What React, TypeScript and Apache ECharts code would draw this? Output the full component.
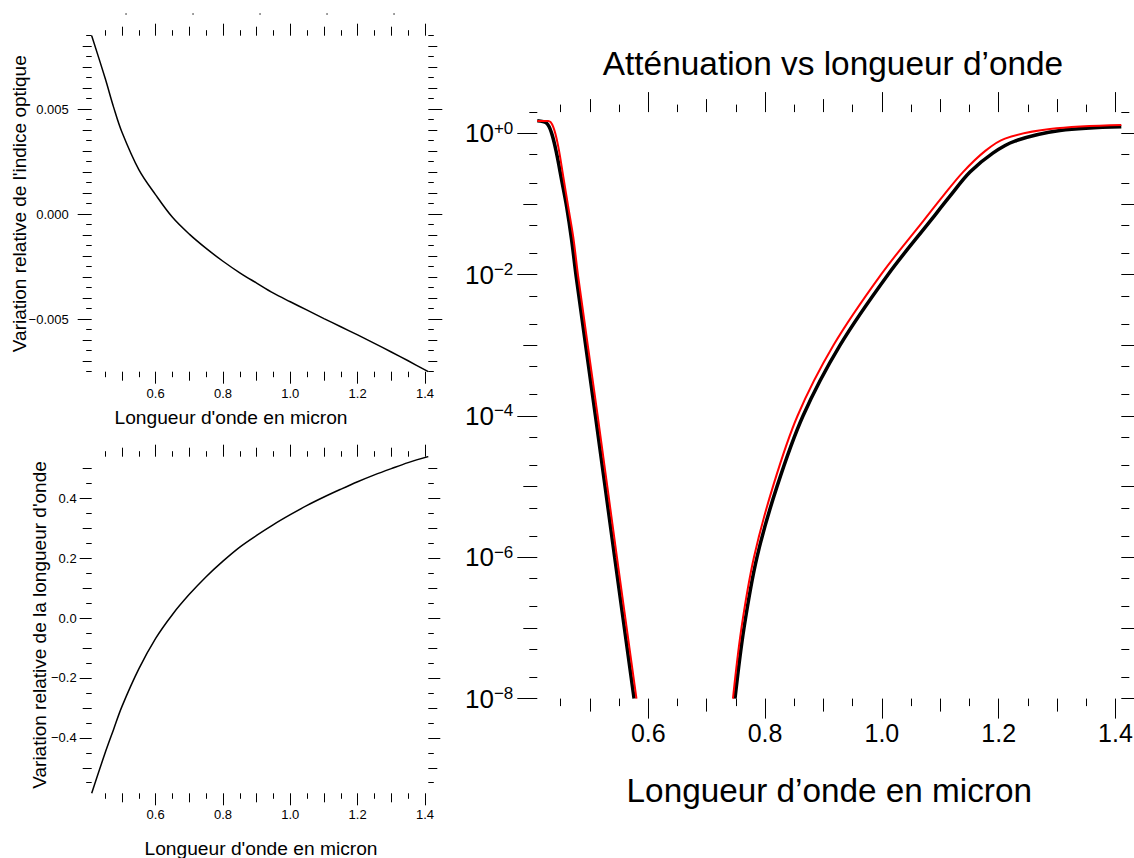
import React, { useEffect, useRef } from 'react';
import * as echarts from 'echarts';

const FONT = '"Liberation Sans", Arial, Helvetica, sans-serif';

// ---- Top-left panel: relative variation of the optical index ----
const lambdaIndex = [0.41, 0.45, 0.475, 0.5, 0.55, 0.6, 0.65, 0.7, 0.75, 0.8, 0.85, 0.9, 0.95, 1.0, 1.05, 1.1, 1.15, 1.2, 1.25, 1.3, 1.35, 1.41];
const indexVariation = [0.0085, 0.00647, 0.0051, 0.0039, 0.00212, 0.00092, -0.00015, -0.00095, -0.00163, -0.00224, -0.00279, -0.00328, -0.00376, -0.00417, -0.00457, -0.00497, -0.00536, -0.00575, -0.00615, -0.00656, -0.00698, -0.0075];

// ---- Bottom-left panel: relative variation of the wavelength ----
const lambdaWave = [0.41, 0.45, 0.475, 0.5, 0.55, 0.6, 0.65, 0.7, 0.75, 0.8, 0.85, 0.9, 0.95, 1.0, 1.05, 1.1, 1.15, 1.2, 1.25, 1.3, 1.35, 1.41];
const waveVariation = [-0.585, -0.45, -0.372, -0.295, -0.17, -0.068, 0.012, 0.079, 0.138, 0.19, 0.237, 0.276, 0.312, 0.345, 0.376, 0.404, 0.43, 0.455, 0.478, 0.499, 0.519, 0.539];

// ---- Right panel: attenuation (log scale) ----
const lambdaBlackShort = [0.41, 0.426, 0.4346, 0.443, 0.4517, 0.4603, 0.4688, 0.4767, 0.5096, 0.5425, 0.5757];
const attBlackShort = [1.51, 1.39, 1.0, 0.52, 0.218, 0.091, 0.031, 0.0093, 1e-4, 1e-6, 1e-8];
const lambdaBlackLong = [0.7485, 0.7639, 0.7861, 0.8204, 0.8649, 0.9282, 1.0104, 1.0841, 1.1166, 1.1509, 1.19, 1.2278, 1.3049, 1.41];
const attBlackLong = [1e-8, 1e-7, 1e-6, 1e-5, 1e-4, 1e-3, 1e-2, 0.0591, 0.129, 0.283, 0.526, 0.778, 1.096, 1.24];
const lambdaRedShort = [0.41, 0.4288, 0.4373, 0.4459, 0.4545, 0.463, 0.4716, 0.4801, 0.5134, 0.5464, 0.5798];
const attRedShort = [1.5, 1.5, 1.24, 0.65, 0.243, 0.091, 0.034, 0.0093, 1e-4, 1e-6, 1e-8];
const lambdaRedLong = [0.745, 0.7596, 0.781, 0.8135, 0.8555, 0.9171, 0.9985, 1.0721, 1.1046, 1.1389, 1.1766, 1.2108, 1.2878, 1.41];
const attRedLong = [1e-8, 1e-7, 1e-6, 1e-5, 1e-4, 1e-3, 1e-2, 0.0591, 0.129, 0.283, 0.561, 0.844, 1.15, 1.31];

// ---- Tick values / labels ----
const X_MAJOR = [0.6, 0.8, 1.0, 1.2, 1.4];
const X_MEDIUM = [0.5, 0.7, 0.9, 1.1, 1.3];
const X_MINOR = [0.45, 0.55, 0.65, 0.75, 0.85, 0.95, 1.05, 1.15, 1.25, 1.35];

const IDX_MAJOR = [-0.005, 0, 0.005];
const IDX_MEDIUM = [-0.007, -0.006, -0.004, -0.003, -0.002, -0.001, 0.001, 0.002, 0.003, 0.004, 0.006, 0.007, 0.008];
const IDX_MINOR = [-0.0075, -0.0065, -0.0055, -0.0045, -0.0035, -0.0025, -0.0015, -0.0005, 0.0005, 0.0015, 0.0025, 0.0035, 0.0045, 0.0055, 0.0065, 0.0075, 0.0085];

const WAVE_MAJOR = [-0.4, -0.2, 0, 0.2, 0.4];
const WAVE_MEDIUM = [-0.5, -0.3, -0.1, 0.1, 0.3, 0.5];
const WAVE_MINOR = [-0.55, -0.45, -0.35, -0.25, -0.15, -0.05, 0.05, 0.15, 0.25, 0.35, 0.45];

const DECADE_MAJOR = [-8, -6, -4, -2, 0];
const DECADE_MEDIUM = [-7, -5, -3, -1];
const DECADE_MINOR_FACTORS = [2, 5];

const LAMBDA_MIN = 0.41;
const LAMBDA_MAX = 1.41;
const IDX_MIN = -0.0075;
const IDX_MAX = 0.0085;
const WAVE_MIN = -0.5853;
const WAVE_MAX = 0.5387;
const ATT_MIN = 1e-8;
const ATT_MAX = 2;

const minus = (s: string) => s.replace('-', '\u2212');

export default function App() {
  const ref = useRef<HTMLDivElement>(null);

  useEffect(() => {
    if (!ref.current) return;
    const chart = echarts.init(ref.current, undefined, { renderer: 'svg' });

    const logMin = Math.log10(ATT_MIN);
    const logMax = Math.log10(ATT_MAX);
    const decadeMinor: number[] = [];
    for (let d = -8; d <= 0; d++) {
      for (const f of DECADE_MINOR_FACTORS) {
        const v = d + Math.log10(f);
        if (v <= logMax + 1e-9) decadeMinor.push(v);
      }
    }

    const xAxes: any[] = [];
    const yAxes: any[] = [];

    const tickAxis = (
      gridIndex: number,
      position: string,
      min: number,
      max: number,
      values: number[],
      length: number,
      label?: any
    ) => ({
      type: 'value',
      gridIndex,
      position,
      min,
      max,
      silent: true,
      axisLine: { show: false, onZero: false },
      splitLine: { show: false },
      axisPointer: { show: false },
      axisTick: {
        show: true,
        inside: false,
        length,
        customValues: values,
        lineStyle: { color: '#000', width: 1 },
      },
      axisLabel: label
        ? { show: true, customValues: values, color: '#000', fontFamily: FONT, ...label }
        : { show: false },
    });

    const addX = (gridIndex: number, min: number, max: number, vals: number[][], lens: number[], label: any) => {
      const first = xAxes.length;
      ['bottom', 'top'].forEach((pos) => {
        vals.forEach((v, i) => {
          xAxes.push(tickAxis(gridIndex, pos, min, max, v, lens[i], pos === 'bottom' && i === 0 ? label : undefined));
        });
      });
      return first;
    };
    const addY = (gridIndex: number, min: number, max: number, vals: number[][], lens: number[], label: any) => {
      const first = yAxes.length;
      ['left', 'right'].forEach((pos) => {
        vals.forEach((v, i) => {
          yAxes.push(tickAxis(gridIndex, pos, min, max, v, lens[i], pos === 'left' && i === 0 ? label : undefined));
        });
      });
      return first;
    };

    const smallLabelX = (margin: number) => ({
      fontSize: 13,
      margin,
      formatter: (v: number) => v.toFixed(1),
    });

    // Grid 0 : top-left
    const x0 = addX(0, LAMBDA_MIN, LAMBDA_MAX, [X_MAJOR, X_MEDIUM, X_MINOR], [12, 9, 5.5], smallLabelX(15.5));
    const y0 = addY(0, IDX_MIN, IDX_MAX, [IDX_MAJOR, IDX_MEDIUM, IDX_MINOR], [14, 9, 5.5], {
      fontSize: 13,
      margin: 23,
      formatter: (v: number) => minus(v.toFixed(3)),
    });
    // Grid 1 : bottom-left
    const x1 = addX(1, LAMBDA_MIN, LAMBDA_MAX, [X_MAJOR, X_MEDIUM, X_MINOR], [12, 9, 5.5], smallLabelX(14.6));
    const y1 = addY(1, WAVE_MIN, WAVE_MAX, [WAVE_MAJOR, WAVE_MEDIUM, WAVE_MINOR], [12, 9, 5.5], {
      fontSize: 13,
      margin: 15,
      formatter: (v: number) => minus(v.toFixed(1)),
    });
    // Grid 2 : right
    const x2 = addX(2, LAMBDA_MIN, LAMBDA_MAX, [X_MAJOR, X_MEDIUM, X_MINOR], [20, 13, 7.5], {
      fontSize: 25,
      margin: 22,
      formatter: (v: number) => v.toFixed(1),
    });
    const y2 = addY(2, logMin, logMax, [DECADE_MAJOR, DECADE_MEDIUM, decadeMinor], [20, 14, 8], {
      margin: 24,
      formatter: (v: number) => `{b|10}{s|${v === 0 ? '+0' : '\u2212' + Math.abs(Math.round(v))}}`,
      rich: {
        b: { fontSize: 26, fontFamily: FONT, color: '#000', lineHeight: 27 },
        s: { fontSize: 17, fontFamily: FONT, color: '#000', verticalAlign: 'top', lineHeight: 17 },
      },
    });

    const line = (xi: number, yi: number, xs: number[], ys: number[], color: string, width: number, log = false) => ({
      type: 'line',
      xAxisIndex: xi,
      yAxisIndex: yi,
      data: xs.map((x, i) => [x, log ? Math.log10(ys[i]) : ys[i]]),
      showSymbol: false,
      symbol: 'none',
      smooth: 0.35,
      silent: true,
      emphasis: { disabled: true },
      lineStyle: { color, width },
    });

    const graphicText = (text: string, x: number, y: number, size: number, rotation = 0) => ({
      type: 'text',
      x,
      y,
      rotation,
      silent: true,
      style: {
        text,
        fontSize: size,
        fontFamily: FONT,
        fill: '#000',
        align: 'center',
        verticalAlign: 'middle',
      },
    });

    const dots = [126, 193, 260, 327, 394].map((cx) => ({
      type: 'circle',
      silent: true,
      shape: { cx, cy: 14, r: 0.8 },
      style: { fill: '#666' },
    }));

    chart.setOption({
      animation: false,
      backgroundColor: '#fff',
      grid: [
        { left: 91.7, top: 35.7, width: 336.6, height: 336, outerBoundsMode: 'none' },
        { left: 91.7, top: 456.7, width: 336.6, height: 336.6, outerBoundsMode: 'none' },
        { left: 537.3, top: 112.1, width: 584, height: 586.5, outerBoundsMode: 'none' },
      ],
      xAxis: xAxes,
      yAxis: yAxes,
      series: [
        line(x0, y0, lambdaIndex, indexVariation, '#000', 1.5),
        line(x1, y1, lambdaWave, waveVariation, '#000', 1.5),
        line(x2, y2, lambdaBlackShort, attBlackShort, '#000', 3.5, true),
        line(x2, y2, lambdaBlackLong, attBlackLong, '#000', 3.5, true),
        line(x2, y2, lambdaRedShort, attRedShort, '#ff0000', 2, true),
        line(x2, y2, lambdaRedLong, attRedLong, '#ff0000', 2, true),
      ],
      graphic: [
        graphicText('Atténuation vs longueur d\u2019onde', 833, 63.5, 33.4),
        graphicText('Longueur d\u2019onde en micron', 829.3, 790.5, 33.3),
        graphicText("Longueur d'onde en micron", 231, 417.7, 19.2),
        graphicText("Longueur d'onde en micron", 261, 848.7, 19.2),
        graphicText("Variation relative de l'indice optique", 19, 203.7, 19, Math.PI / 2),
        graphicText("Variation relative de la longueur d'onde", 39, 625, 19, Math.PI / 2),
        ...dots,
      ],
    });

    return () => chart.dispose();
  }, []);

  return (
    <div
      ref={ref}
      style={{ position: 'absolute', left: 0, top: 0, width: 1134, height: 858, background: '#fff' }}
    />
  );
}
